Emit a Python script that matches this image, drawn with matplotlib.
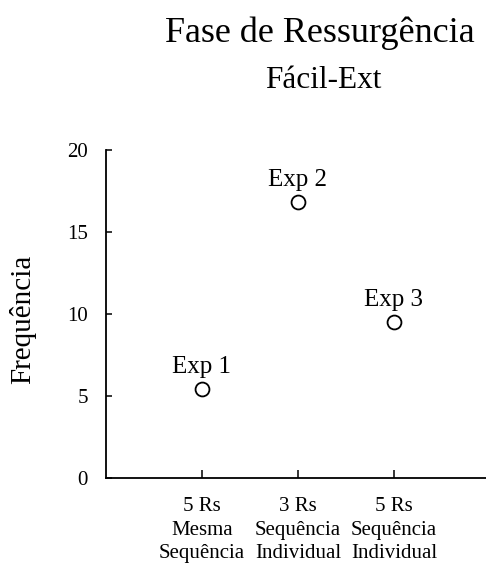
import matplotlib
matplotlib.use("Agg")
import matplotlib.pyplot as plt

plt.rcParams['font.family'] = ['Liberation Serif', 'DejaVu Serif']

# Data
categories = ["5 Rs\nMesma\nSequência", "3 Rs\nSequência\nIndividual", "5 Rs\nSequência\nIndividual"]
frequencies = [5.4, 16.8, 9.5]
point_labels = ["Exp 1", "Exp 2", "Exp 3"]
y_ticks = [0, 5, 10, 15, 20]

fig = plt.figure(figsize=(4.86, 5.63), dpi=100)
ax = fig.add_axes([0.218, 0.151, 0.782, 0.5826])

positions = list(range(1, len(categories) + 1))
ax.plot(positions, frequencies, linestyle='none', marker='o', markersize=10,
        markerfacecolor='white', markeredgecolor='black', markeredgewidth=1.3,
        clip_on=False)

for x, y, lab in zip(positions, frequencies, point_labels):
    ax.annotate(lab, (x, y), xytext=(0, 12), textcoords='offset points',
                ha='center', va='baseline', fontsize=18)

ax.set_xlim(0, 3.96)
ax.set_ylim(0, 20)
ax.set_yticks(y_ticks)
ax.set_xticks(positions)
ax.set_xticklabels(categories, fontsize=15, linespacing=1.3)
ax.tick_params(axis='y', direction='in', length=4, width=1.1, pad=13, labelsize=15)
ax.tick_params(axis='x', direction='in', length=5.5, width=1.1, pad=14)

for side in ('top', 'right'):
    ax.spines[side].set_visible(False)
for side in ('left', 'bottom'):
    ax.spines[side].set_linewidth(1.3)

fig.text(23 / 486, 1 - 319 / 563, "Frequência", rotation=90, ha='center', va='center', fontsize=21)
fig.text(320 / 486, 1 - 42 / 563, "Fase de Ressurgência", ha='center', va='baseline', fontsize=26)
fig.text(323 / 486, 1 - 88 / 563, "Fácil-Ext", ha='center', va='baseline', fontsize=22.5)

fig.savefig("out.png", dpi=100)
